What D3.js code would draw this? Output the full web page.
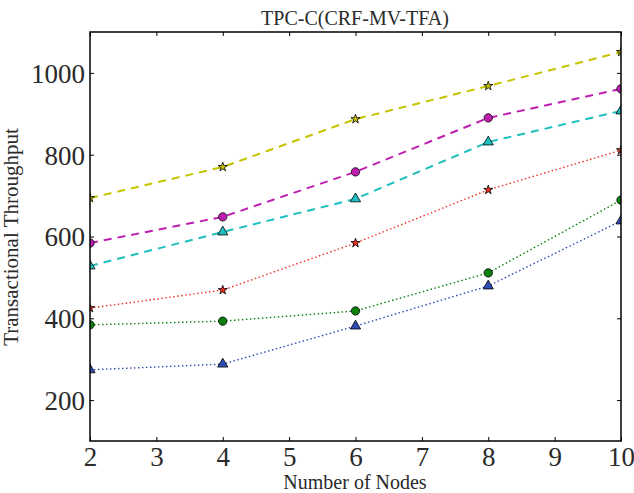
<!DOCTYPE html>
<html><head><meta charset="utf-8">
<script src="https://cdn.jsdelivr.net/npm/d3@7"></script>
<style>body{margin:0;background:#fff}svg{display:block}</style>
</head><body>
<svg id="c" width="634" height="493"></svg>
<script>
const nodes = [2, 4, 6, 8, 10];
const seriesA = [694, 770, 887, 968, 1051];   // yellow star dashed
const seriesB = [584, 648, 758, 890, 961];    // magenta circle dashed
const seriesC = [528, 611, 692, 831, 907];    // cyan triangle dashed
const seriesD = [425, 469, 584, 714, 811];    // red star dotted
const seriesE = [384, 393, 418, 511, 689];    // green circle dotted
const seriesF = [274, 288, 381, 479, 638];    // blue triangle dotted
const xTicks = [2, 3, 4, 5, 6, 7, 8, 9, 10];
const yTicks = [200, 400, 600, 800, 1000];

const series = [
  {v: seriesA, color: "#c4c400", marker: "star", dash: "8,6", w: 2},
  {v: seriesB, color: "#bf1fb0", marker: "circle", dash: "8,6", w: 2},
  {v: seriesC, color: "#1fbfbf", marker: "triangle", dash: "8,6", w: 2},
  {v: seriesD, color: "#f03020", marker: "star", dash: "1.5,2.5", w: 1.4},
  {v: seriesE, color: "#0a800a", marker: "circle", dash: "1.5,2.5", w: 1.4},
  {v: seriesF, color: "#2d4cb4", marker: "triangle", dash: "1.5,2.5", w: 1.4}
];

const L = 90, R = 621, T = 32, B = 441;
const svg = d3.select("#c");
const x = d3.scaleLinear().domain([2, 10]).range([L, R]);
const y = d3.scaleLinear().domain([100, 1100]).range([B, T]);
const font = "'Liberation Serif', 'DejaVu Serif', serif";

svg.append("defs").append("clipPath").attr("id", "clip")
  .append("rect").attr("x", L).attr("y", T).attr("width", R - L).attr("height", B - T);

const plot = svg.append("g").attr("clip-path", "url(#clip)");
const line = d3.line().x((d, i) => x(nodes[i])).y(d => y(d));
const sym = {star: d3.symbolStar, circle: d3.symbolCircle, triangle: d3.symbolTriangle};
const size = {star: 26, circle: 55, triangle: 45};

series.forEach(s => {
  plot.append("path").attr("d", line(s.v)).attr("fill", "none")
    .attr("stroke", s.color).attr("stroke-width", s.w).attr("stroke-dasharray", s.dash);
  plot.selectAll(null).data(s.v).enter().append("path")
    .attr("transform", (d, i) => `translate(${x(nodes[i])},${y(d)})`)
    .attr("d", d3.symbol().type(sym[s.marker]).size(size[s.marker]))
    .attr("fill", s.color).attr("stroke", "#000").attr("stroke-width", 0.8);
});

// axes with inward ticks
const tl = 4;
const axB = svg.append("g").attr("transform", `translate(0,${B})`)
  .call(d3.axisBottom(x).tickValues(xTicks).tickSize(-tl).tickPadding(6).tickFormat(d3.format("d")));
const axT = svg.append("g").attr("transform", `translate(0,${T})`)
  .call(d3.axisTop(x).tickValues(xTicks).tickSize(-tl).tickFormat(""));
const axL = svg.append("g").attr("transform", `translate(${L},0)`)
  .call(d3.axisLeft(y).tickValues(yTicks).tickSize(-tl).tickPadding(5).tickFormat(d3.format("d")));
const axR = svg.append("g").attr("transform", `translate(${R},0)`)
  .call(d3.axisRight(y).tickValues(yTicks).tickSize(-tl).tickFormat(""));
[axB, axT, axL, axR].forEach(a => {
  a.select(".domain").remove();
  a.selectAll(".tick line").attr("stroke", "#000").attr("stroke-width", 1);
  a.selectAll("text").attr("font-family", font).attr("font-size", 27).attr("fill", "#2a2a2a");
});
axB.selectAll("text").attr("dy", "0.72em");
axL.selectAll("text").attr("dy", "0.35em");

svg.append("rect").attr("x", L).attr("y", T).attr("width", R - L).attr("height", B - T)
  .attr("fill", "none").attr("stroke", "#000").attr("stroke-width", 1.5);

svg.append("text").attr("x", 355).attr("y", 25).attr("text-anchor", "middle")
  .attr("font-family", font).attr("font-size", 20).attr("fill", "#2a2a2a").text("TPC-C(CRF-MV-TFA)");
svg.append("text").attr("x", 355).attr("y", 489).attr("text-anchor", "middle")
  .attr("font-family", font).attr("font-size", 20).attr("fill", "#2a2a2a").text("Number of Nodes");
svg.append("text").attr("transform", "translate(18,237) rotate(-90)").attr("text-anchor", "middle")
  .attr("font-family", font).attr("font-size", 21).attr("fill", "#2a2a2a").text("Transactional Throughput");
</script>
</body></html>
